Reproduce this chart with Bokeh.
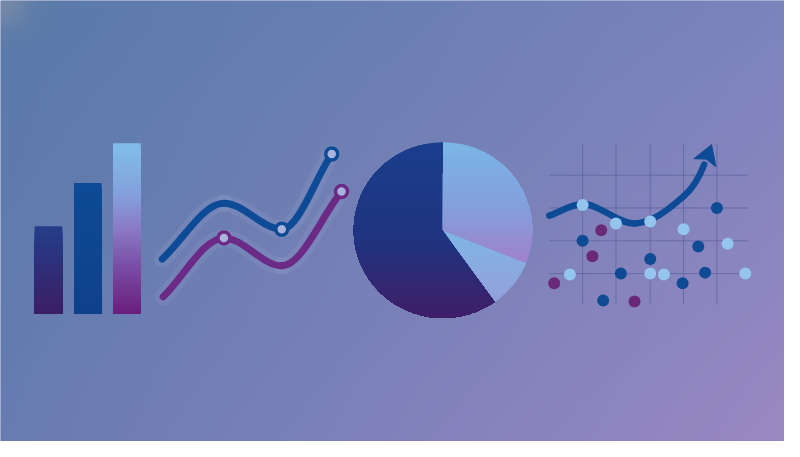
import numpy as np
from bokeh.plotting import figure
from bokeh.models import Range1d
from bokeh.embed import file_html
from bokeh.resources import INLINE

# ---------------- data (canvas units, y measured downward from the top) ----------------
CANVAS_W, CANVAS_H = 800, 457

# bar chart
bar_categories = ["A", "B", "C"]
bar_values = [91, 136, 177]
bar_left_edges = [35, 75, 115]
bar_baseline = 325

# two line series (knots) and the knots that carry a ring marker
line_a_x = [165, 228, 287, 338]
line_a_y = [268, 210, 237, 159]
line_a_marked = [2, 3]
line_b_x = [166, 228, 287, 348]
line_b_y = [307, 246, 275, 198]
line_b_marked = [1, 3]

# pie chart (percent shares, counter-clockwise from 12 o'clock)
pie_labels = ["dark", "light", "gradient"]
pie_values = [60, 9, 31]

# scatter panel
trend_x = [560, 594, 647, 697, 718]
trend_y = [223, 211, 231, 203, 170]
trend_end_slope = 2.7
light_x = [594, 628, 663, 697, 742, 581, 663, 677, 760]
light_y = [212, 231, 229, 237, 252, 284, 283, 284, 283]
dark_x = [731, 594, 712, 663, 633, 719, 696, 615]
dark_y = [215, 249, 255, 268, 283, 282, 293, 311]
purple_x = [613, 604, 565, 647]
purple_y = [238, 265, 293, 312]
grid_vx = [594, 628, 663, 697, 731]
grid_hy = [181, 215, 249, 283]


def Y(v):
    return CANVAS_H - np.asarray(v, dtype=float)


def interp_color(stops, t):
    t = min(max(t, 0.0), 1.0)
    for (t0, c0), (t1, c1) in zip(stops[:-1], stops[1:]):
        if t <= t1:
            f = 0 if t1 == t0 else (t - t0) / (t1 - t0)
            c = [int(round(a + (b - a) * f)) for a, b in zip(c0, c1)]
            return "#%02x%02x%02x" % tuple(c)
    return "#%02x%02x%02x" % tuple(stops[-1][1])


def clip_below(poly, y0):
    """keep the part of poly with y <= y0"""
    out = []
    n = len(poly)
    for i in range(n):
        P = poly[i - 1]
        Q = poly[i]
        pin, qin = P[1] <= y0, Q[1] <= y0
        if qin:
            if not pin:
                t = (y0 - P[1]) / (Q[1] - P[1])
                out.append((P[0] + t * (Q[0] - P[0]), y0))
            out.append(Q)
        elif pin:
            t = (y0 - P[1]) / (Q[1] - P[1])
            out.append((P[0] + t * (Q[0] - P[0]), y0))
    return out


def gradient_layers(poly, stops, step=2.0):
    """Stacked layers: each layer covers from its top down to the shape bottom,
    drawn top-first so later layers paint over the lower part (no seams)."""
    ys = [p[1] for p in poly]
    ytop, ybot = max(ys), min(ys)
    n = int(np.ceil((ytop - ybot) / step))
    xs_out, ys_out, cols = [], [], []
    for k in range(n):
        hi = ytop - k * step
        piece = poly if k == 0 else clip_below(poly, hi)
        if len(piece) < 3:
            continue
        xs_out.append([p[0] for p in piece])
        ys_out.append([p[1] for p in piece])
        cols.append(interp_color(stops, (k + 0.5) / n))
    return xs_out, ys_out, cols


def pchip_slopes(x, y, end_slope=None):
    x = np.asarray(x, float)
    y = np.asarray(y, float)
    h = np.diff(x)
    d = np.diff(y) / h
    m = np.zeros(len(x))
    m[0] = d[0]
    m[-1] = d[-1] if end_slope is None else end_slope
    for k in range(1, len(x) - 1):
        if d[k - 1] * d[k] <= 0:
            m[k] = 0.0
        else:
            w1 = 2 * h[k] + h[k - 1]
            w2 = h[k] + 2 * h[k - 1]
            m[k] = (w1 + w2) / (w1 / d[k - 1] + w2 / d[k])
    return m


def bezier_parts(x, y, end_slope=None):
    x = np.asarray(x, float)
    y = np.asarray(y, float)
    m = pchip_slopes(x, y, end_slope)
    x0, y0, x1, y1, cx0, cy0, cx1, cy1 = ([] for _ in range(8))
    for k in range(len(x) - 1):
        h = x[k + 1] - x[k]
        x0.append(x[k]); y0.append(y[k]); x1.append(x[k + 1]); y1.append(y[k + 1])
        cx0.append(x[k] + h / 3); cy0.append(y[k] + m[k] * h / 3)
        cx1.append(x[k + 1] - h / 3); cy1.append(y[k + 1] - m[k + 1] * h / 3)
    return dict(x0=x0, y0=y0, x1=x1, y1=y1, cx0=cx0, cy0=cy0, cx1=cx1, cy1=cy1)


# ---------------- figure ----------------
p = figure(width=784, height=441, x_range=Range1d(0, CANVAS_W), y_range=Range1d(0, CANVAS_H),
           output_backend="svg", toolbar_location=None, x_axis_type=None, y_axis_type=None,
           min_border=0, outline_line_color=None,
           background_fill_color="#6f80b6", border_fill_color="#6f80b6")
p.xgrid.visible = False
p.ygrid.visible = False

# background: diagonal blue -> lavender wash
nx, ny = 400, 229
gx = np.linspace(0, 1, nx)[None, :]
gy_up = np.linspace(0, 1, ny)[:, None]           # row 0 = bottom
gy = 1 - gy_up                                   # 0 = top
c_tl = np.array([88, 122, 168]); c_tr = np.array([124, 132, 188])
c_bl = np.array([104, 124, 178]); c_br = np.array([154, 136, 196])
rgb = np.zeros((ny, nx, 3))
for i in range(3):
    rgb[..., i] = (c_tl[i] * (1 - gx) * (1 - gy) + c_tr[i] * gx * (1 - gy)
                   + c_bl[i] * (1 - gx) * gy + c_br[i] * gx * gy)
dist = np.sqrt((gx * CANVAS_W) ** 2 + (gy * CANVAS_H) ** 2)
glow = np.exp(-(dist / 28.0) ** 2)
rgb[..., 0] += 30 * glow; rgb[..., 1] += 16 * glow
img = np.empty((ny, nx), dtype=np.uint32)
view = img.view(dtype=np.uint8).reshape((ny, nx, 4))
view[..., :3] = np.clip(rgb, 0, 255).astype(np.uint8)
view[..., 3] = 255
p.image_rgba(image=[img], x=0, y=0, dw=CANVAS_W, dh=CANVAS_H)

# ---------------- bars ----------------
bar_w = 28
bar_stops = [
    [(0, (36, 62, 138)), (1, (60, 30, 100))],
    [(0, (14, 74, 150)), (1, (14, 66, 138))],
    [(0, (128, 190, 234)), (0.3, (132, 160, 220)), (0.5, (138, 122, 198)),
     (0.75, (120, 72, 160)), (1, (106, 30, 124))],
]
base_y = float(Y(bar_baseline))
for left, val, stops in zip(bar_left_edges, bar_values, bar_stops):
    top_y = base_y + val
    n = int(np.ceil(val / 2.0))
    tops = list(np.linspace(top_y, base_y, n + 1)[:-1])
    cols = [interp_color(stops, (k + 0.5) / n) for k in range(n)]
    p.quad(left=[left] * n, right=[left + bar_w] * n, top=tops, bottom=[base_y] * n,
           fill_color=cols, line_color=None)

# ---------------- line chart ----------------
for lx, ly, marked, col in [(line_a_x, line_a_y, line_a_marked, "#0e4b97"),
                            (line_b_x, line_b_y, line_b_marked, "#6b2a86")]:
    parts = bezier_parts(lx, Y(ly))
    p.bezier(**parts, line_color="#b4c0ea", line_alpha=0.12, line_width=17, line_cap="round")
    p.bezier(**parts, line_color=col, line_width=7, line_cap="round")
    mx = [lx[i] for i in marked]
    my = [float(Y(ly[i])) for i in marked]
    p.scatter(mx, my, size=12, marker="circle", fill_color="#a9b3dc",
              line_color=col, line_width=3.5)

# ---------------- pie ----------------
pcx, pcy, pr = 451.5, float(Y(238)), 91.0
pie_stops = [
    [(0, (26, 62, 140)), (0.55, (32, 52, 128)), (1, (64, 30, 104))],
    [(0, (126, 182, 230)), (1, (148, 160, 218))],
    [(0, (122, 182, 230)), (0.55, (132, 158, 220)), (1, (160, 128, 204))],
]
start = np.pi / 2
for val, stops in zip(pie_values, pie_stops):
    span = 2 * np.pi * val / sum(pie_values)
    ang = np.linspace(start, start + span, max(8, int(span / 0.02)))
    poly = [(pcx, pcy)] + [(pcx + pr * np.cos(a), pcy + pr * np.sin(a)) for a in ang]
    xs_, ys_, cols = gradient_layers(poly, stops, step=2.0)
    p.patches(xs_, ys_, fill_color=cols, line_color=None)
    start += span

# ---------------- scatter panel ----------------
p.multi_line([[x, x] for x in grid_vx], [[float(Y(148)), float(Y(315))]] * len(grid_vx),
             line_color="#4d5896", line_alpha=0.55, line_width=1)
p.multi_line([[560, 763]] * len(grid_hy), [[float(Y(y)), float(Y(y))] for y in grid_hy],
             line_color="#4d5896", line_alpha=0.55, line_width=1)

tparts = bezier_parts(trend_x, Y(trend_y), end_slope=trend_end_slope)
p.bezier(**tparts, line_color="#0e4b97", line_width=6.5, line_cap="round")
ex, ey = trend_x[-1], float(Y(trend_y[-1]))
u = np.array([1.0, trend_end_slope]); u /= np.linalg.norm(u)
perp = np.array([u[1], -u[0]])
tip = np.array([ex, ey]) + u * 22
c1 = np.array([ex, ey]) + u * 2 + perp * 12
c2 = np.array([ex, ey]) + u * 2 - perp * 12
notch = np.array([ex, ey]) + u * 6
p.patch([tip[0], c1[0], notch[0], c2[0]], [tip[1], c1[1], notch[1], c2[1]],
        fill_color="#0e4b97", line_color="#0e4b97", line_width=1)

p.scatter(light_x, Y(light_y), size=12, marker="circle", fill_color="#93c5ee", line_color=None)
p.scatter(dark_x, Y(dark_y), size=12, marker="circle", fill_color="#0f4a94", line_color=None)
p.scatter(purple_x, Y(purple_y), size=12, marker="circle", fill_color="#6a2878", line_color=None)

open("out.html", "w").write(file_html(p, INLINE))
